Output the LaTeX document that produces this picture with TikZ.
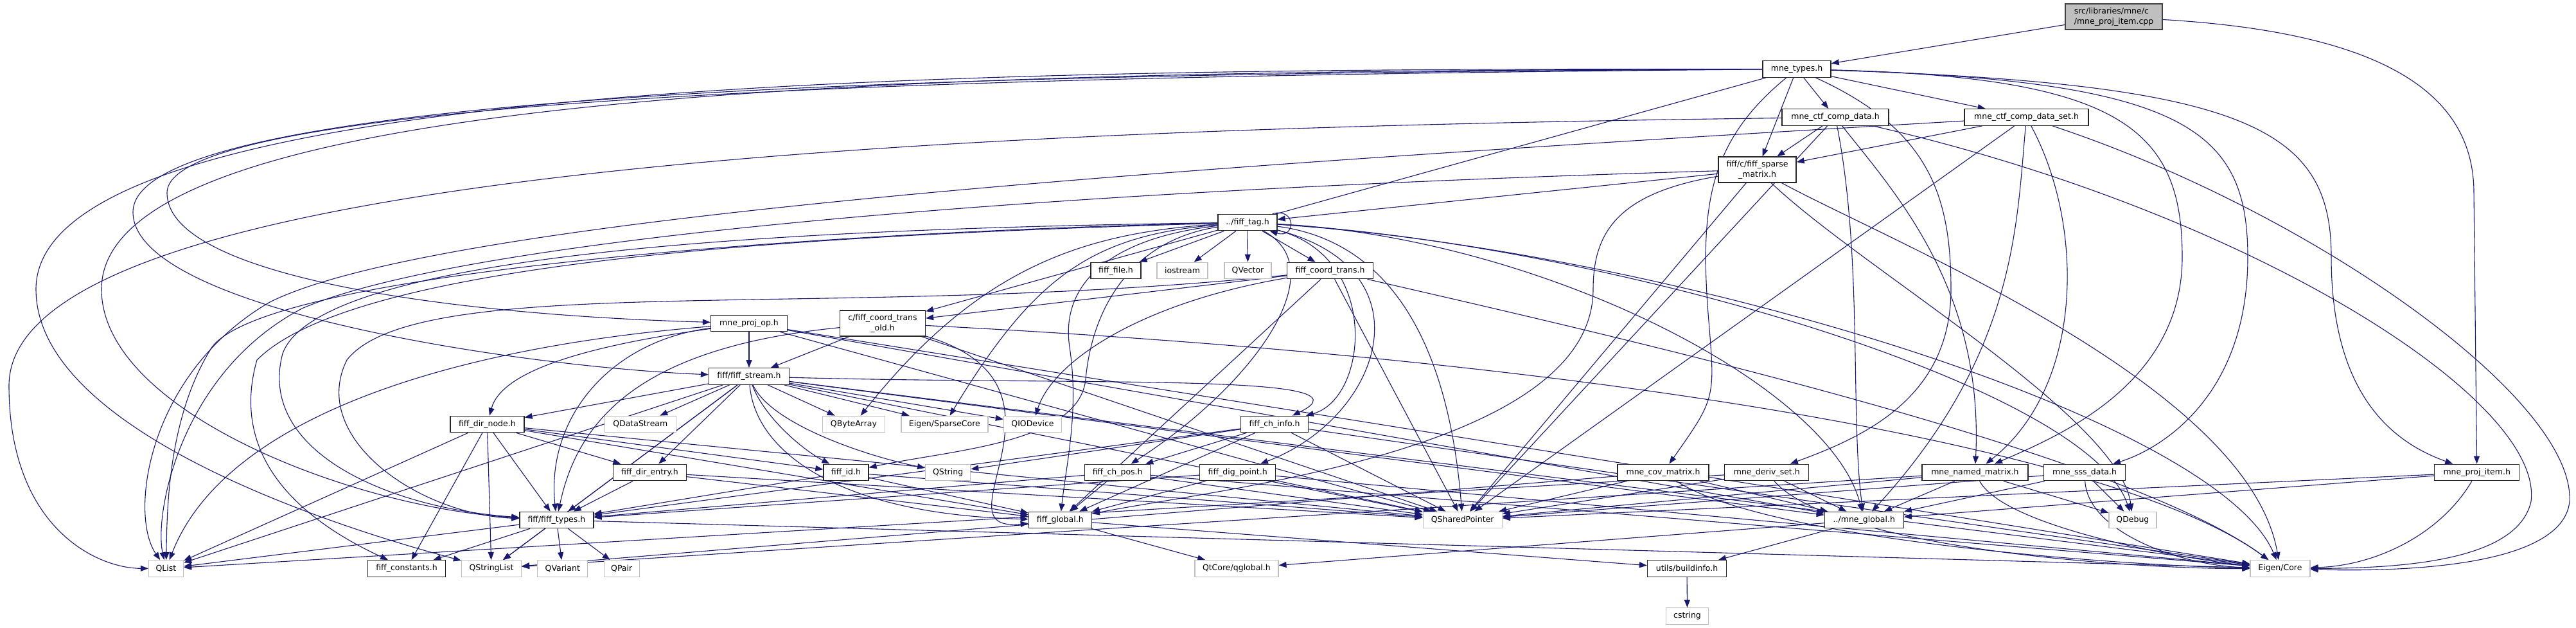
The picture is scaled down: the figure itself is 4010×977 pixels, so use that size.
\documentclass[tikz,border=0pt]{standalone}
\usepackage{fontspec}
\setmainfont{DejaVu Sans}
\usetikzlibrary{arrows.meta,backgrounds}
\definecolor{edgeblue}{HTML}{191970}
\definecolor{extgray}{HTML}{BFBFBF}
\definecolor{srcgray}{HTML}{BFBFBF}
\definecolor{srcline}{HTML}{404040}

\begin{document}
\begin{tikzpicture}[x=1pt, y=-1pt,
	every node/.style={rectangle, draw=black!85, line width=1.3pt, fill=white, inner sep=0pt, minimum height=25.5pt, align=center, font=\fontsize{12.5}{15.5}\selectfont},
	ext/.style={draw=extgray},
	srcbox/.style={fill=srcgray, draw=srcline, minimum height=40pt, align=left},
	twoline/.style={minimum height=40pt},
	dep/.style={draw=edgeblue, line width=1.1pt, -{Triangle[length=12pt,width=9pt]}}]

	\useasboundingbox (0,0) rectangle (4010,977);

	% top rows
	\node[srcbox, minimum width=151pt] (src) at (3290.5,26) {src/libraries/mne/c\\/mne\_proj\_item.cpp};
	\node[minimum width=106pt] (types) at (2797,107.5) {mne\_types.h};
	\node[minimum width=166pt] (ctfdata) at (2857,182.5) {mne\_ctf\_comp\_data.h};
	\node[minimum width=193pt] (ctfset) at (3154.5,182.5) {mne\_ctf\_comp\_data\_set.h};
	\node[twoline, minimum width=121pt] (sparse) at (2735.5,264) {fiff/c/fiff\_sparse\\\_matrix.h};
	\node[minimum width=92pt] (tag) at (1942,346) {../fiff\_tag.h};
	\node[minimum width=78pt] (file) at (1737,421) {fiff\_file.h};
	\node[ext, minimum width=79pt] (iostream) at (1840.5,421) {iostream};
	\node[ext, minimum width=73pt] (qvector) at (1942.5,421) {QVector};
	\node[minimum width=134pt] (ctrans) at (2070.5,421) {fiff\_coord\_trans.h};
	\node[minimum width=119pt] (projop) at (1166,503) {mne\_proj\_op.h};
	\node[twoline, minimum width=133pt] (ctold) at (1374,503) {c/fiff\_coord\_trans\\\_old.h};
	\node[minimum width=125pt] (stream) at (1166,585.5) {fiff/fiff\_stream.h};

	% middle rows
	\node[minimum width=115pt] (dirnode) at (758.4,660) {fiff\_dir\_node.h};
	\node[ext, minimum width=111pt] (qdatastream) at (996.8,660) {QDataStream};
	\node[ext, minimum width=97pt] (qbytearray) at (1329,660) {QByteArray};
	\node[ext, minimum width=135pt] (sparsecore) at (1470.4,660) {Eigen/SparseCore};
	\node[ext, minimum width=90pt] (qiodevice) at (1607.5,660) {QIODevice};
	\node[minimum width=104.5pt] (chinfo) at (1984,660) {fiff\_ch\_info.h};
	\node[minimum width=114pt] (direntry) at (1011.5,735) {fiff\_dir\_entry.h};
	\node[minimum width=70pt] (fid) at (1317,735) {fiff\_id.h};
	\node[ext, minimum width=70pt] (qstring) at (1475.6,735) {QString};
	\node[minimum width=102pt] (chpos) at (1739.7,735) {fiff\_ch\_pos.h};
	\node[minimum width=118pt] (digpoint) at (1926.7,735) {fiff\_dig\_point.h};
	\node[minimum width=142pt] (covmat) at (2589,735) {mne\_cov\_matrix.h};
	\node[minimum width=131pt] (derivset) at (2750.3,735) {mne\_deriv\_set.h};
	\node[minimum width=165pt] (namedmat) at (3074.4,735) {mne\_named\_matrix.h};
	\node[minimum width=126.5pt] (sssdata) at (3245,735) {mne\_sss\_data.h};
	\node[minimum width=132pt] (projitem) at (3855.7,735) {mne\_proj\_item.h};
	\node[minimum width=115pt] (ftypes) at (866.4,809) {fiff/fiff\_types.h};
	\node[minimum width=98pt] (fglobal) at (1650.3,809) {fiff\_global.h};
	\node[ext, minimum width=123pt] (qshared) at (2276.7,809) {QSharedPointer};
	\node[minimum width=123pt] (mglobal) at (2901.8,809) {../mne\_global.h};
	\node[ext, minimum width=74pt] (qdebug) at (3319.9,809) {QDebug};

	% bottom rows
	\node[ext, minimum width=54pt] (qlist) at (258.5,884.5) {QList};
	\node[minimum width=121pt] (fconst) at (633.1,884.5) {fiff\_constants.h};
	\node[ext, minimum width=93pt] (qstringlist) at (765,884.5) {QStringList};
	\node[ext, minimum width=78pt] (qvariant) at (875.8,884.5) {QVariant};
	\node[ext, minimum width=55pt] (qpair) at (967.7,884.5) {QPair};
	\node[ext, minimum width=130pt] (qglobal) at (1924.9,884.5) {QtCore/qglobal.h};
	\node[minimum width=123pt] (buildinfo) at (2626,884.5) {utils/buildinfo.h};
	\node[ext, minimum width=93pt] (eigcore) at (3549.4,884.5) {Eigen/Core};
	\node[ext, minimum width=66pt] (cstring) at (2626.5,958.5) {cstring};

	\begin{scope}[on background layer]
	% the source file
	\draw[dep] (src) -- (types);
	\draw[dep] (src) .. controls (3700,50) and (3851,140) .. (3851,300) -- (projitem);

	% mne_types.h
	\draw[dep] (types) -- (ctfdata);
	\draw[dep] (types) -- (ctfset);
	\draw[dep] (types) -- (sparse);
	\draw[dep] (types) -- (ctold);
	\draw[dep] (types) .. controls (2660,220) and (2645,320) .. (2660,500) .. controls (2670,620) .. (covmat);
	\draw[dep] (types) .. controls (3000,200) and (3037,300) .. (3037,450) .. controls (3037,620) and (2900,680) .. (derivset);
	\draw[dep] (types) .. controls (3300,120) and (3397,200) .. (3397,400) .. controls (3397,600) and (3200,680) .. (namedmat);
	\draw[dep] (types) .. controls (3400,125) and (3499,200) .. (3499,400) .. controls (3499,620) and (3360,700) .. (sssdata);
	\draw[dep] (types) .. controls (3500,130) and (3629,200) .. (3629,400) .. controls (3629,620) and (3730,690) .. (projitem);
	\draw[dep] (types) .. controls (1500,118) and (260,150) .. (260,300) .. controls (260,430) and (700,490) .. (projop);
	\draw[dep] (types) .. controls (1500,114) and (207,140) .. (207,330) .. controls (207,480) and (800,570) .. (stream);
	\draw[dep] (types) .. controls (1500,110) and (158,130) .. (158,450) .. controls (158,640) and (550,790) .. (ftypes);
	\draw[dep] (types) .. controls (1500,106) and (56,120) .. (56,450) .. controls (56,680) and (560,830) .. (qstringlist);

	% mne_ctf_comp_data.h
	\draw[dep] (ctfdata) -- (sparse);
	\draw[dep] (ctfdata) .. controls (1500,200) and (14,260) .. (14,600) .. controls (14,820) and (150,884) .. (qlist);
	\draw[dep] (ctfdata) .. controls (2950,300) and (3088,450) .. (namedmat);
	\draw[dep] (ctfdata) -- (qshared);
	\draw[dep] (ctfdata) .. controls (2900,400) and (2880,650) .. (mglobal);
	\draw[dep] (ctfdata) .. controls (3500,330) and (3960,620) .. (3940,780) .. controls (3920,870) and (3750,884) .. (eigcore);

	% mne_ctf_comp_data_set.h
	\draw[dep] (ctfset) -- (sparse);
	\draw[dep] (ctfset) .. controls (2000,250) and (700,330) .. (420,470) .. controls (230,580) and (200,800) .. (qlist);
	\draw[dep] (ctfset) -- (qshared);
	\draw[dep] (ctfset) .. controls (3139,350) and (3139,550) .. (mglobal);
	\draw[dep] (ctfset) .. controls (3245,350) and (3245,600) .. (namedmat);
	\draw[dep] (ctfset) .. controls (3600,330) and (4008,620) .. (4000,780) .. controls (3990,880) and (3750,890) .. (eigcore);

	% fiff/c/fiff_sparse_matrix.h
	\draw[dep] (sparse) -- (tag);
	\draw[dep] (sparse) .. controls (1500,300) and (700,380) .. (470,480) .. controls (280,580) and (240,800) .. (qlist);
	\draw[dep] (sparse) .. controls (2520,300) and (2480,360) .. (2480,450) .. controls (2480,700) and (1900,760) .. (fglobal);
	\draw[dep] (sparse) -- (qshared);
	\draw[dep] (sparse) .. controls (2900,420) and (3300,650) .. (qdebug);
	\draw[dep] (sparse) .. controls (2950,380) and (3500,600) .. (eigcore);

	% ../fiff_tag.h
	\draw[dep] ([xshift=-8pt]tag.north east) .. controls (2018,322) and (2018,372) .. ([xshift=-12pt]tag.south east);
	\draw[dep] (tag) -- (file);
	\draw[dep] (tag) -- (iostream);
	\draw[dep] (tag) -- (qvector);
	\draw[dep] (tag) -- (ctrans);
	\draw[dep] (tag) .. controls (1300,355) and (500,385) .. (440,550) .. controls (400,700) and (600,790) .. (ftypes);
	\draw[dep] (tag) .. controls (1300,360) and (420,420) .. (330,540) .. controls (260,650) and (260,800) .. (qlist);
	\draw[dep] (tag) .. controls (1300,365) and (560,400) .. (400,560) .. controls (360,700) and (450,800) .. (fconst);
	\draw[dep] (tag) .. controls (1680,362) and (1520,420) .. (qbytearray);
	\draw[dep] (tag) .. controls (1700,366) and (1610,430) .. (sparsecore);
	\draw[dep] (tag) .. controls (1730,370) and (1650,440) .. (1665,540) .. controls (1680,640) and (1660,720) .. (fglobal);
	\draw[dep] (tag) .. controls (1760,374) and (1700,480) .. (1690,590) .. controls (1680,690) and (1480,700) .. (fid);
	\draw[dep] (tag) .. controls (2150,400) and (2130,620) .. (chinfo);
	\draw[dep] (tag) .. controls (2080,420) and (1950,600) .. (chpos);
	\draw[dep] (tag) .. controls (2230,420) and (2150,650) .. (digpoint);
	\draw[dep] (tag) .. controls (2200,380) and (2260,600) .. (qshared);
	\draw[dep] (tag) .. controls (2400,370) and (2850,600) .. (mglobal);
	\draw[dep] (tag) .. controls (2500,380) and (3250,600) .. (qdebug);
	\draw[dep] (tag) .. controls (2600,390) and (3450,650) .. (eigcore);

	% fiff_coord_trans.h
	\draw[dep] (ctrans) -- (ctold);
	\draw[dep] (ctrans) .. controls (1300,500) and (650,420) .. (540,560) .. controls (480,680) and (650,800) .. (ftypes);
	\draw[dep] (ctrans) .. controls (1780,470) and (1640,560) .. (qiodevice);
	\draw[dep] (ctrans) -- (fglobal);
	\draw[dep] (ctrans) -- (qshared);
	\draw[dep] (ctrans) .. controls (2500,520) and (3300,700) .. (eigcore);

	% c/fiff_coord_trans_old.h
	\draw[dep] (ctold) -- (stream);
	\draw[dep] (ctold) .. controls (1000,540) and (900,650) .. (ftypes);
	\draw[dep] (ctold) .. controls (1700,600) and (1450,830) .. (fglobal);
	\draw[dep] (ctold) -- (qshared);
	\draw[dep] (ctold) .. controls (2500,560) and (3300,700) .. (eigcore);

	% mne_proj_op.h
	\draw[dep] (projop) -- (stream);
	\draw[dep] (projop) .. controls (950,530) and (850,650) .. (ftypes);
	\draw[dep] (projop) .. controls (700,540) and (350,650) .. (qlist);
	\draw[dep] (projop) .. controls (900,540) and (780,580) .. (dirnode);
	\draw[dep] (projop) -- (qshared);
	\draw[dep] (projop) -- (mglobal);
	\draw[dep] (projop) -- (eigcore);

	% fiff/fiff_stream.h
	\draw[dep] (stream) -- (dirnode);
	\draw[dep] (stream) -- (qdatastream);
	\draw[dep] (stream) -- (qbytearray);
	\draw[dep] (stream) -- (sparsecore);
	\draw[dep] (stream) -- (qiodevice);
	\draw[dep] (stream) -- (direntry);
	\draw[dep] (stream) .. controls (1190,650) and (1250,700) .. (fid);
	\draw[dep] (stream) .. controls (1200,660) and (1350,710) .. (qstring);
	\draw[dep] (stream) .. controls (1175,700) and (1300,800) .. (fglobal);
	\draw[dep] (stream) -- (ftypes);
	\draw[dep] (stream) -- (qlist);
	\draw[dep] (stream) -- (qstringlist);
	\draw[dep] (stream) .. controls (1700,600) and (2150,580) .. (chinfo);
	\draw[dep] (stream) -- (qshared);
	\draw[dep] (stream) -- (mglobal);
	\draw[dep] (stream) -- (eigcore);

	% fiff_dir_node.h
	\draw[dep] (dirnode) -- (direntry);
	\draw[dep] (dirnode) -- (fid);
	\draw[dep] (dirnode) -- (ftypes);
	\draw[dep] (dirnode) -- (fconst);
	\draw[dep] (dirnode) -- (qstringlist);
	\draw[dep] (dirnode) -- (qlist);
	\draw[dep] (dirnode) -- (fglobal);
	\draw[dep] (dirnode) -- (qshared);

	% fiff headers
	\draw[dep] (direntry) -- (ftypes);
	\draw[dep] (direntry) -- (fglobal);
	\draw[dep] (direntry) -- (qshared);
	\draw[dep] (fid) -- (ftypes);
	\draw[dep] (fid) -- (fglobal);
	\draw[dep] (fid) -- (qshared);
	\draw[dep] (chinfo) -- (qstring);
	\draw[dep] (chinfo) -- (ftypes);
	\draw[dep] (chinfo) -- (chpos);
	\draw[dep] (chinfo) -- (fglobal);
	\draw[dep] (chinfo) -- (qshared);
	\draw[dep] (chinfo) -- (eigcore);
	\draw[dep] (chpos) -- (ftypes);
	\draw[dep] (chpos) -- (fglobal);
	\draw[dep] (chpos) -- (qshared);
	\draw[dep] (chpos) -- (eigcore);
	\draw[dep] (digpoint) -- (ftypes);
	\draw[dep] (digpoint) -- (fglobal);
	\draw[dep] (digpoint) -- (qshared);
	\draw[dep] (digpoint) -- (eigcore);

	% mne headers
	\draw[dep] (covmat) -- (qshared);
	\draw[dep] (covmat) -- (qstringlist);
	\draw[dep] (covmat) -- (mglobal);
	\draw[dep] (covmat) .. controls (2750,840) and (3300,880) .. (eigcore);
	\draw[dep] (derivset) -- (qshared);
	\draw[dep] (derivset) -- (qlist);
	\draw[dep] (derivset) -- (mglobal);
	\draw[dep] (derivset) .. controls (2850,850) and (3300,885) .. (eigcore);
	\draw[dep] (namedmat) -- (mglobal);
	\draw[dep] (namedmat) -- (qshared);
	\draw[dep] (namedmat) -- (qdebug);
	\draw[dep] (namedmat) .. controls (3120,820) and (3400,870) .. (eigcore);
	\draw[dep] (namedmat) -- (qstringlist);
	\draw[dep] (sssdata) -- (mglobal);
	\draw[dep] (sssdata) -- (qshared);
	\draw[dep] (sssdata) -- (qdebug);
	\draw[dep] (sssdata) .. controls (3250,830) and (3400,880) .. (eigcore);
	\draw[dep] (projitem) -- (mglobal);
	\draw[dep] (projitem) -- (qshared);
	\draw[dep] (projitem) .. controls (3800,830) and (3700,880) .. (eigcore);

	% globals
	\draw[dep] (mglobal) -- (buildinfo);
	\draw[dep] (mglobal) -- (qglobal);
	\draw[dep] (fglobal) -- (qglobal);
	\draw[dep] (fglobal) -- (buildinfo);
	\draw[dep] (buildinfo) -- (cstring);

	% fiff/fiff_types.h
	\draw[dep] (ftypes) -- (qlist);
	\draw[dep] (ftypes) -- (fconst);
	\draw[dep] (ftypes) -- (qstringlist);
	\draw[dep] (ftypes) -- (qvariant);
	\draw[dep] (ftypes) -- (qpair);
	\draw[dep] (ftypes) -- (eigcore);
	\end{scope}
\end{tikzpicture}
\end{document}
